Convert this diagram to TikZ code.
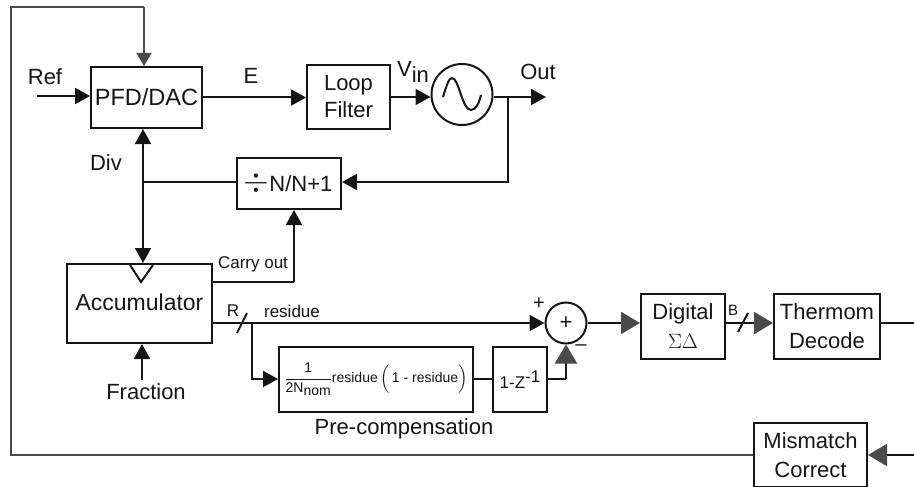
\documentclass[tikz,border=0pt]{standalone}
\usepackage{amsmath}
\usepackage{fontspec}
\setmainfont{Liberation Sans}
\usetikzlibrary{arrows.meta,calc}
\definecolor{wirecol}{HTML}{151515}
\definecolor{fbcol}{HTML}{4a4a4a}

\begin{document}
\begin{tikzpicture}[
  x=1pt, y=-1pt,
  every node/.style={font=\fontsize{22}{29}\selectfont, text=wirecol},
  block/.style={draw=wirecol, line width=2pt, inner sep=0pt, anchor=north west, align=center},
  wire/.style={draw=wirecol, line width=2pt},
  sig/.style={wire, -{Triangle[length=15pt, width=16pt]}},
  graysig/.style={wire, -{Triangle[length=19pt, width=22pt, fill=fbcol, color=fbcol]}},
  fbline/.style={draw=fbcol, line width=1.6pt},
  lbl/.style={inner sep=0pt, anchor=center},
  smalltxt/.style={lbl, font=\fontsize{17}{20}\selectfont}
]
\useasboundingbox (0,0) rectangle (914,487);

\node[block, minimum width=111pt, minimum height=61pt] (pfd) at (90,66) {};
\node[lbl, font=\fontsize{23.5}{26}\selectfont] (pfdtxt) at (pfd.center) {PFD/DAC};
\node[block, minimum width=83pt, minimum height=64pt] (filt) at (306,64) {};
\node[lbl, align=center, font=\fontsize{22}{27}\selectfont] (filttxt) at (filt.center) {Loop\\Filter};
\node[circle, draw=wirecol, line width=2pt, minimum size=61pt, inner sep=0pt] (vco) at (462,94.5) {};
\node[block, minimum width=104pt, minimum height=51pt] (div) at (236,157) {};
\node[lbl] (divtxt) at ($(div.center)+(-1,0)$) {\scalebox{1.6}{$\div$}N/N+1};
\node[block, minimum width=145pt, minimum height=79pt] (acc) at (66,263) {};
\node[lbl, font=\fontsize{23}{26}\selectfont] (acctxt) at ($(acc.center)+(0,-1)$) {Accumulator};
\node[block, minimum width=194pt, minimum height=65pt] (comp) at (278,346) {};
\node[lbl, font=\fontsize{14}{16}\selectfont] (comptxt) at (comp.center)
  {$\dfrac{\text{1}}{\text{2N\raisebox{-3pt}{nom}}}$residue\,\scalebox{1.1}{$\Bigl($}\,1 - residue\scalebox{1.1}{$\Bigr)$}};
\node[block, minimum width=54pt, minimum height=65pt] (zinv) at (492,346) {};
\node[smalltxt] (zinvtxt) at (zinv.center) {1-Z\raisebox{6pt}{-1}};
\node[circle, draw=wirecol, line width=2pt, minimum size=41pt, inner sep=0pt] (sum) at (566,323) {};
\node[lbl] (sumtxt) at (sum.center) {+};
\node[block, minimum width=84pt, minimum height=65pt] (dsm) at (640,293) {};
\node[lbl, align=center] (dsmtxt) at (dsm.center) {Digital\\$\Sigma\Delta$};
\node[block, minimum width=106pt, minimum height=65pt] (therm) at (773,293) {};
\node[lbl, align=center] (thermtxt) at (therm.center) {Thermom\\Decode};
\node[block, minimum width=113pt, minimum height=64pt] (mis) at (753,422) {};
\node[lbl, align=center] (mistxt) at (mis.center) {Mismatch\\Correct};

\coordinate (refin) at (37,96);
\coordinate (outend) at (546,97);
\coordinate (outtap) at (508,97);
\coordinate (divtap) at (143,182);
\coordinate (carrytap) at (294,282);
\coordinate (rtap) at (252,323);
\coordinate (compin) at (252,379);
\coordinate (zout) at (566,378.5);
\coordinate (thermend) at (914,323);
\coordinate (misend) at (914,455);
\coordinate (fbleft) at (11,455);
\coordinate (fbtop) at (11,7);
\coordinate (fbright) at (144,7);
\coordinate (fracin) at (142,380);

% sine in the vco
\draw[wire] (443,97) .. controls (447,84) and (449,78) .. (452,78) .. controls (459,78) and (462,110) .. (471,110) .. controls (476,110) and (479,103) .. (481,95);

\draw[sig] (refin) -- (pfd.west |- refin);
\draw[sig] (pfd.east) -- (filt.west |- pfd.east);
\draw[sig] (filt.east |- outtap) -- (vco.west |- outtap);
\draw[sig] (vco.east |- outtap) -- (outend);
\draw[sig] (outtap) |- (div.east |- divtap);
\draw[wire] (div.west |- divtap) -- (divtap);
\draw[wire, {Triangle[length=15pt, width=16pt]}-{Triangle[length=15pt, width=16pt]}] (pfd.south -| divtap) -- (acc.north -| divtap);
\draw[wire] (acc.east |- carrytap) -- (carrytap);
\draw[sig] (carrytap) -- (div.south -| carrytap);
\draw[sig] (acc.east |- rtap) -- (sum.west);
\draw[sig] (rtap) |- (comp.west |- compin);
\draw[wire] (comp.east |- compin) -- (zinv.west |- compin);
\draw[wire] (zinv.east |- zout) -- (zout);
\draw[graysig] (zout) -- (sum.south);
\draw[graysig] (sum.east) -- (dsm.west |- sum.east);
\draw[graysig] (dsm.east |- sum.east) -- (therm.west |- sum.east);
\draw[wire] (therm.east |- sum.east) -- (thermend);
\draw[graysig] (misend) -- (mis.east |- misend);
\draw[fbline] (mis.west |- misend) -- (fbleft) -- (fbtop) -- (fbright);
\draw[fbline, -{Triangle[length=13pt, width=15pt, fill=fbcol, color=fbcol]}] (fbright) -- (pfd.north -| fbright);
\draw[sig] (fracin) -- (acc.south -| fracin);

% bus ticks and clock mark
\draw[wire] (237,333) -- (247,313);
\draw[wire] (738,332) -- (748,313);
\draw[wire] (130,265) -- (141,282) -- (153,265);

\node[lbl] (ref) at (45,77) {Ref};
\node[lbl] (e) at (251,76) {E};
\node[lbl] (vin) at (413,72) {V\raisebox{-6pt}{in}};
\node[lbl] (out) at (538,72) {Out};
\node[lbl] (divlbl) at (106,163) {Div};
\node[smalltxt] (carry) at (253,264) {Carry out};
\node[smalltxt] (rlbl) at (233,311) {R};
\node[smalltxt] (res) at (292,311) {residue};
\node[lbl] (frac) at (146,392) {Fraction};
\node[lbl] (pre) at (404,429) {Pre-compensation};
\node[smalltxt, font=\fontsize{20}{22}\selectfont] (plus) at (539,304) {+};
\node[smalltxt, font=\fontsize{20}{22}\selectfont] (minus) at (581,348) {--};
\node[lbl, font=\fontsize{15}{16}\selectfont] (blbl) at (733,310) {B};
\end{tikzpicture}
\end{document}
